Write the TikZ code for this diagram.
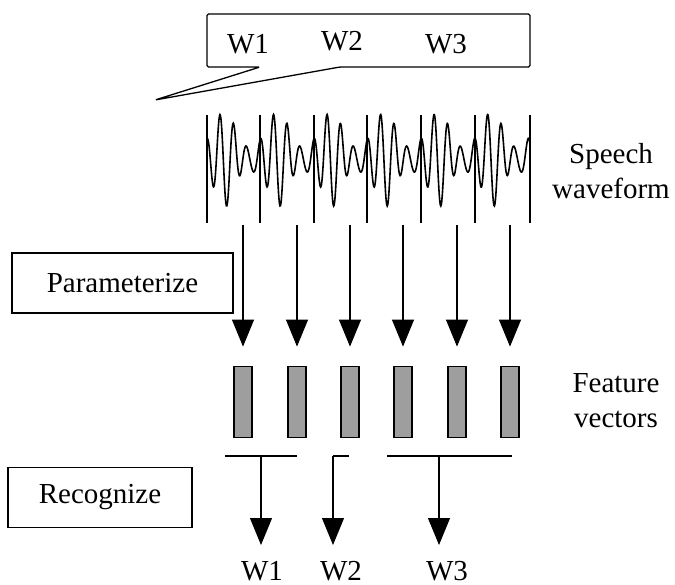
\documentclass[tikz,border=0pt]{standalone}
\usepackage{fontspec}
\setmainfont{Liberation Serif}
\usetikzlibrary{arrows.meta}
\tikzset{>={Triangle[width=22pt,length=27pt]},
  lbl/.style={font=\fontsize{29}{35}\selectfont},
  stagebox/.style={draw, line width=1.2pt, lbl, minimum height=60pt, inner sep=0pt},
  fvec/.style={draw, line width=1.8pt, fill=black!38, minimum width=18pt, minimum height=71pt, inner sep=0pt}}

\begin{document}
\begin{tikzpicture}[x=1pt, y=-1pt, line width=1.1pt]
    \useasboundingbox (0,0) rectangle (675,585);
    % callout with the words
    \draw[line width=1.3pt, rounded corners=1.5pt] (260,67) -- (207,67) -- (207,14) -- (530,14)
        -- (530,67) -- (340,67) -- (155,100) -- cycle;
    \node[lbl] (c1) at (248,44) {W1};
    \node[lbl] (c2) at (342,41) {W2};
    \node[lbl] (c3) at (446,44) {W3};
    % speech waveform
    \draw[line width=1.6pt] plot[variable=\t, domain=0:323, samples=700, smooth]
        ({207+\t}, {158 - (27+18*cos(6.729*(\t-17)))*sin(26.9*\t+100)
              - 4*sin(13.45*\t)});
    \foreach \x in {207,260,314,367,421,475,530}
        \draw (\x,115) -- (\x,223);
    \node[lbl, align=center] (speech) at (611,171) {Speech\\waveform};
    % parameterize
    \node[stagebox, minimum width=221pt] (param) at (122.5,283) {Parameterize};
    \foreach \x [count=\i] in {243,297,350,403,457,510} {
        \node[fvec] (v\i) at (\x,402) {};
        \coordinate (s\i) at (\x,225);
        \draw[->] (s\i) -- ([yshift=19pt]v\i.north);
    }
    \node[lbl, align=center] (feat) at (616,401) {Feature\\vectors};
    % recognize
    \node[stagebox, minimum width=184pt] (recog) at (100,497.5) {Recognize};
    \coordinate (g1) at (261,456);
    \coordinate (g2) at (333,456);
    \coordinate (g3) at (439,456);
    \coordinate (e1) at (261,545);
    \coordinate (e2) at (333,545);
    \coordinate (e3) at (439,545);
    \draw (225,456) -- (297,456);
    \draw (349,456) -- (g2);
    \draw (387,456) -- (512,456);
    \foreach \i in {1,2,3}
        \draw[->] (g\i) -- (e\i);
    \node[lbl, anchor=base, inner sep=1pt] (w1) at (262,580) {W1};
    \node[lbl, anchor=base, inner sep=1pt] (w2) at (341,580) {W2};
    \node[lbl, anchor=base, inner sep=1pt] (w3) at (447,580) {W3};
\end{tikzpicture}
\end{document}
